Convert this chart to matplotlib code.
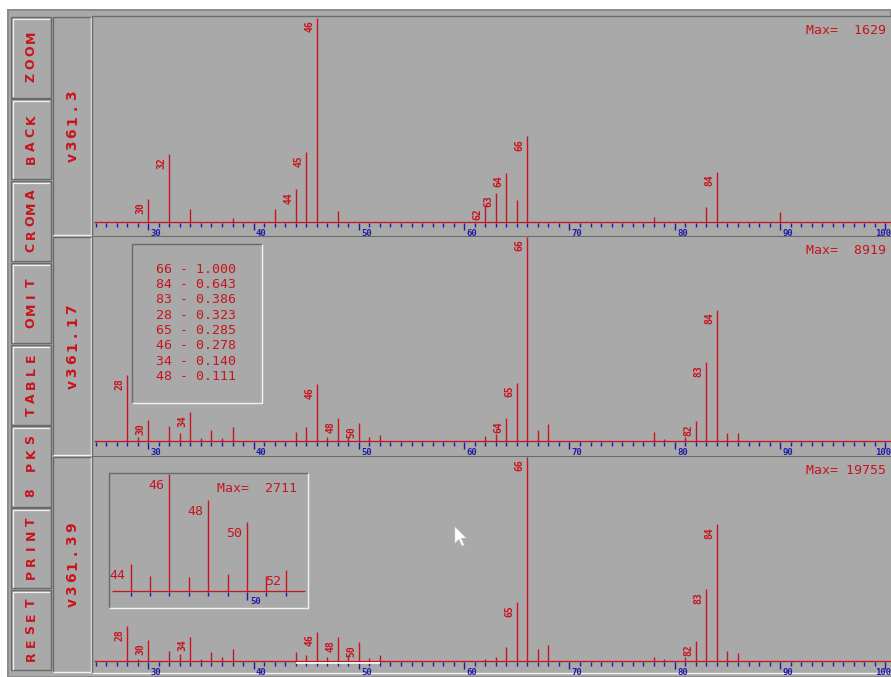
import numpy as np
import matplotlib.pyplot as plt
from matplotlib.patches import Rectangle, Polygon

W, H = 891, 677

# ---- data ----
buttons = ['ZOOM', 'BACK', 'CROMA', 'OMIT', 'TABLE', '8 PKS', 'PRINT', 'RESET']
spectra_names = ['v361.3', 'v361.17', 'v361.39']
max_counts = [1629, 8919, 19755]

mz1 = [30, 32, 34, 38, 42, 44, 45, 46, 48, 62, 63, 64, 65, 66, 78, 83, 84, 90]
rel1 = [0.11, 0.33, 0.062, 0.02, 0.062, 0.16, 0.34, 1.0, 0.05,
        0.08, 0.143, 0.24, 0.105, 0.42, 0.025, 0.07, 0.246, 0.048]
lab1 = [30, 32, 44, 45, 46, 62, 63, 64, 66, 84]

mz2 = [28, 29, 30, 32, 33, 34, 35, 36, 37, 38, 44, 45, 46, 47, 48, 49, 50, 51, 52,
       62, 63, 64, 65, 66, 67, 68, 78, 79, 81, 82, 83, 84, 85, 86]
rel2 = [0.323, 0.016, 0.10, 0.07, 0.04, 0.14, 0.012, 0.052, 0.012, 0.065,
        0.045, 0.065, 0.278, 0.016, 0.111, 0.02, 0.087, 0.016, 0.026,
        0.025, 0.033, 0.11, 0.285, 1.0, 0.052, 0.08, 0.045, 0.01, 0.016,
        0.097, 0.386, 0.643, 0.04, 0.04]
lab2 = [28, 30, 34, 46, 48, 50, 64, 65, 66, 82, 83, 84]

mz3 = [28, 29, 30, 32, 33, 34, 35, 36, 37, 38, 44, 45, 46, 47, 48, 49, 50, 51, 52,
       62, 63, 64, 65, 66, 67, 68, 78, 79, 81, 82, 83, 84, 85, 86]
rel3 = [0.17, 0.01, 0.10, 0.047, 0.033, 0.118, 0.01, 0.042, 0.02, 0.055,
        0.042, 0.028, 0.142, 0.02, 0.114, 0.028, 0.09, 0.015, 0.03,
        0.01, 0.02, 0.069, 0.287, 1.0, 0.055, 0.075, 0.02, 0.01, 0.02,
        0.096, 0.35, 0.67, 0.047, 0.04]
lab3 = [28, 30, 34, 46, 48, 50, 65, 66, 82, 83, 84]

# 8 biggest peaks of v361.17
top_mz = [66, 84, 83, 28, 65, 46, 34, 48]
top_rel = [1.000, 0.643, 0.386, 0.323, 0.285, 0.278, 0.140, 0.111]

# zoom window of v361.39 (44..52)
zoom_mz = [44, 45, 46, 47, 48, 49, 50, 51, 52]
zoom_rel = [0.23, 0.13, 1.0, 0.12, 0.78, 0.146, 0.59, 0.13, 0.18]
zoom_lab = [44, 46, 48, 50, 52]
zoom_max = 2711

# ---- look ----
GRAY = '#a9a9a9'
DARK = '#6a6a6a'
LIGHT = '#f2f2f2'
RED = '#c8141e'
BLUE = '#1c1ca8'
MONO = 'DejaVu Sans Mono'
SANS = 'DejaVu Sans'

PX = 1 / 100 * 72  # one pixel in points


def rect_px(x0, y0, x1, y1):
    return [x0 / W, 1 - y1 / H, (x1 - x0) / W, (y1 - y0) / H]


fig = plt.figure(figsize=(W / 100, H / 100), dpi=100)
fig.patch.set_facecolor('white')

bg = fig.add_axes([0, 0, 1, 1], zorder=0)
bg.set_xlim(0, W)
bg.set_ylim(H, 0)
bg.axis('off')


def bevel(ax, x0, y0, x1, y1, sunken=True, fill=GRAY):
    ax.add_patch(Rectangle((x0, y0), x1 - x0, y1 - y0, facecolor=fill,
                           edgecolor='none', zorder=1))
    tl, br = (DARK, LIGHT) if sunken else (LIGHT, DARK)
    ax.plot([x0, x0, x1], [y1, y0, y0], color=tl, lw=1.4 * PX, zorder=2,
            solid_capstyle='butt')
    ax.plot([x0, x1, x1], [y1, y1, y0], color=br, lw=1.4 * PX, zorder=2,
            solid_capstyle='butt')


def spaced_text(ax, cx, cy, s, sp, size):
    # vertical text, one character per fixed cell (like the old screen font)
    n = len(s)
    for i, ch in enumerate(s):
        ax.text(cx, cy + ((n - 1) / 2 - i) * sp, ch, rotation=90, color=RED,
                fontsize=size, fontweight='bold', family=SANS,
                ha='center', va='center', zorder=3)


# window background
bg.add_patch(Rectangle((8, 10), W - 8, H - 10, facecolor=GRAY,
                       edgecolor='#8c8c8c', lw=2 * PX, zorder=0.5))

# button column
btn_top, btn_h = 17.3, 81.8
for i, name in enumerate(buttons):
    y0 = btn_top + i * btn_h
    bg.add_patch(Rectangle((11, y0), 40, btn_h - 1.5, facecolor=GRAY,
                           edgecolor=DARK, lw=1.4 * PX, zorder=1))
    bg.plot([13, 13, 49], [y0 + btn_h - 3, y0 + 2, y0 + 2], color=LIGHT,
            lw=1.2 * PX, zorder=2)
    spaced_text(bg, 31, y0 + btn_h / 2 - 1, name, 13.4, 9)

# spectrum panels
panels = [(17, 236, 221.7), (237, 456, 440.7), (457, 673, 660.7)]
FULL = 204.0
XPX = 10.53
X30 = 148.3
AX_L, AX_R = 93, 891
xlim = (30 - (X30 - AX_L) / XPX, 30 + (AX_R - X30) / XPX)

datasets = [(mz1, rel1, lab1), (mz2, rel2, lab2), (mz3, rel3, lab3)]
axes = []
for k, (top, bot, base) in enumerate(panels):
    bevel(bg, 53, top, 90.5, bot - 1, sunken=True)
    spaced_text(bg, 72.5, (top + bot) / 2, spectra_names[k], 12.6, 10)
    bevel(bg, 91.5, top - 1, W + 2, bot - 0.5, sunken=True)

    ax = fig.add_axes(rect_px(AX_L, top, AX_R, bot), zorder=2)
    ax.set_facecolor('none')
    ax.axis('off')
    ax.set_xlim(*xlim)
    ax.set_ylim(-(bot - base) / FULL, (base - top) / FULL)

    mz, rel, lab = datasets[k]
    ax.hlines(0, xlim[0] + 0.1, xlim[1], color=RED, lw=1.3 * PX)
    for m in range(25, 101):
        major = m % 10 == 0
        ax.vlines(m, -1.5 / FULL, -(8.5 if major else 5.5) / FULL,
                  color=BLUE, lw=1.4 * PX)
        if major:
            # the last label sits on the right edge; keep it inside the panel
            at_edge = m + 2 > xlim[1]
            ax.text(xlim[1] if at_edge else m + 0.2, -7 / FULL, str(m),
                    color=BLUE, fontsize=6.5, fontweight='bold', family=MONO,
                    ha='right' if at_edge else 'left', va='top')
    ax.vlines(mz, 0, rel, color=RED, lw=1.4 * PX)
    for m, r in zip(mz, rel):
        if m in lab:
            ax.text(m - 0.25, r - 3 / FULL, str(m), rotation=90, color=RED,
                    fontsize=7, fontweight='bold', family=MONO,
                    ha='right', va='top', clip_on=True)
    ax.text((806 - AX_L) / (AX_R - AX_L), 1 - 13.5 / (bot - top),
            f'Max= {max_counts[k]:>5d}', transform=ax.transAxes, color=RED,
            fontsize=9.5, family=MONO, ha='left', va='center')
    axes.append(ax)

# selected range under v361.39
axes[2].hlines(-2 / FULL, zoom_mz[0], zoom_mz[-1], color='white', lw=1.6 * PX,
               zorder=3)

# overlay: table box, zoom box, cursor
ov = fig.add_axes([0, 0, 1, 1], zorder=3)
ov.set_facecolor('none')
ov.set_xlim(0, W)
ov.set_ylim(H, 0)
ov.axis('off')

bevel(ov, 131.7, 244, 261.7, 402.7, sunken=True)
for i, (m, r) in enumerate(zip(top_mz, top_rel)):
    ov.text(156, 269.3 + i * 15.3, f'{m} - {r:.3f}', color=RED, fontsize=9.5,
            family=MONO, ha='left', va='center', zorder=3)

ZX0, ZY0, ZX1, ZY1 = 109.3, 473.3, 308.3, 608.3
bevel(ov, ZX0, ZY0, ZX1, ZY1, sunken=True)

zpx, z44, zbase, zfull = 19.375, 130.7, 590.7, 116.7
axz = fig.add_axes(rect_px(ZX0 + 1, ZY0 + 1, ZX1 - 1, ZY1 - 1), zorder=4)
axz.set_facecolor('none')
axz.axis('off')
zx = (44 - (z44 - ZX0 - 1) / zpx, 44 + (ZX1 - 1 - z44) / zpx)
axz.set_xlim(*zx)
axz.set_ylim(-(ZY1 - 1 - zbase) / zfull, (zbase - ZY0 - 1) / zfull)
axz.hlines(0, zx[0] + 0.1, zx[1] - 0.1, color=RED, lw=1.3 * PX)
for m in zoom_mz:
    major = m % 10 == 0
    axz.vlines(m, -1.5 / zfull, -(9 if major else 5) / zfull, color=BLUE,
               lw=1.4 * PX)
    if major:
        axz.text(m + 0.2, -6.5 / zfull, str(m), color=BLUE, fontsize=6.5,
                 fontweight='bold', family=MONO, ha='left', va='top')
axz.vlines(zoom_mz, 0, zoom_rel, color=RED, lw=1.4 * PX)
for m, r in zip(zoom_mz, zoom_rel):
    if m in zoom_lab:
        axz.text(m - 0.26, r - 5 / zfull, str(m), color=RED, fontsize=9.5,
                 family=MONO, ha='right', va='top')
axz.text((216.7 - ZX0) / (ZX1 - ZX0), (ZY1 - 487.8) / (ZY1 - ZY0),
         f'Max= {zoom_max:>5d}', transform=axz.transAxes, color=RED,
         fontsize=9.5, family=MONO, ha='left', va='center')

# mouse pointer
arrow = np.array([[0, 0], [0, 16], [4, 12], [7, 19], [9, 18], [6, 11], [11, 11]])
ov.add_patch(Polygon(arrow + [455, 527], closed=True, facecolor='white',
                     edgecolor='#d8d8d8', lw=0.5 * PX, zorder=5))

fig.savefig('out.png', dpi=100)
